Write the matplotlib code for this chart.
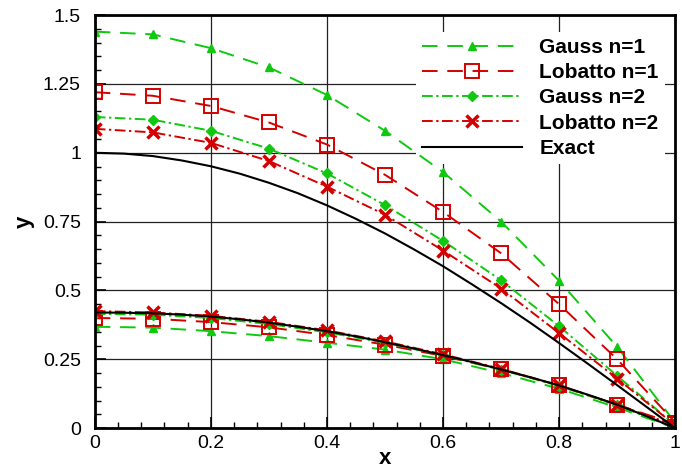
import numpy as np
import matplotlib
matplotlib.use('Agg')
from matplotlib import pyplot as plt
from matplotlib.ticker import MultipleLocator, FormatStrFormatter

plt.rcParams['font.family'] = ['Liberation Sans', 'DejaVu Sans']

x = [0, 0.1, 0.2, 0.3, 0.4, 0.5, 0.6, 0.7, 0.8, 0.9, 1.0]

# upper branch
gauss1_hi = [1.44, 1.43, 1.38, 1.31, 1.21, 1.08, 0.93, 0.75, 0.535, 0.295, 0.02]
lobatto1_hi = [1.22, 1.207, 1.17, 1.11, 1.03, 0.92, 0.785, 0.635, 0.45, 0.25, 0.02]
gauss2_hi = [1.13, 1.12, 1.08, 1.015, 0.925, 0.81, 0.68, 0.537, 0.37, 0.19, 0.01]
lobatto2_hi = [1.087, 1.074, 1.036, 0.97, 0.877, 0.775, 0.645, 0.507, 0.345, 0.18, 0.01]

# lower branch
gauss1_lo = [0.368, 0.365, 0.352, 0.334, 0.31, 0.285, 0.25, 0.2, 0.143, 0.075, 0.0]
lobatto1_lo = [0.40, 0.397, 0.385, 0.366, 0.338, 0.303, 0.262, 0.213, 0.155, 0.085, 0.015]
gauss2_lo = [0.415, 0.412, 0.40, 0.378, 0.348, 0.31, 0.264, 0.212, 0.153, 0.083, 0.0]
lobatto2_lo = [0.425, 0.42, 0.408, 0.386, 0.355, 0.315, 0.268, 0.215, 0.155, 0.085, 0.01]

# exact solutions
x_exact = [0, 0.05, 0.1, 0.15, 0.2, 0.25, 0.3, 0.35, 0.4, 0.45, 0.5,
           0.55, 0.6, 0.65, 0.7, 0.75, 0.8, 0.85, 0.9, 0.95, 1.0]
exact_hi = [1.0, 0.997, 0.988, 0.972, 0.951, 0.924, 0.891, 0.853, 0.809, 0.76, 0.707,
            0.649, 0.588, 0.522, 0.454, 0.383, 0.309, 0.233, 0.156, 0.078, 0.0]
exact_lo = [0.42, 0.419, 0.417, 0.412, 0.405, 0.395, 0.383, 0.368, 0.352, 0.333, 0.312,
            0.289, 0.265, 0.24, 0.213, 0.185, 0.155, 0.121, 0.085, 0.044, 0.0]

green = '#10c810'
red = '#d40000'

fig = plt.figure(figsize=(6.82, 4.72), dpi=100)
ax = fig.add_axes([0.139, 0.093, 0.851, 0.875])

styles = [
    ('Gauss n=1', gauss1_hi, gauss1_lo, dict(color=green, ls=(0, (8, 5)), marker='^', ms=5.5, mfc=green, mec=green)),
    ('Lobatto n=1', lobatto1_hi, lobatto1_lo, dict(color=red, ls=(0, (8, 5)), marker='s', ms=9.5, mfc='none', mec=red, mew=1.4)),
    ('Gauss n=2', gauss2_hi, gauss2_lo, dict(color=green, ls=(0, (5.5, 1.8, 1.2, 1.8)), marker='D', ms=5, mfc=green, mec=green)),
    ('Lobatto n=2', lobatto2_hi, lobatto2_lo, dict(color=red, ls=(0, (5.5, 1.8, 1.2, 1.8)), marker='x', ms=9, mec=red, mew=2.5)),
]
for name, hi, lo, st in styles:
    ax.plot(x, hi, lw=1.4, label=name, zorder=3, **st)
    ax.plot(x, lo, lw=1.4, zorder=3, **st)

ax.plot(x_exact, exact_hi, color='k', lw=1.5, label='Exact', zorder=3)
ax.plot(x_exact, exact_lo, color='k', lw=1.5, zorder=3)

ax.set_xlim(0, 1)
ax.set_ylim(0, 1.5)
ax.xaxis.set_major_locator(MultipleLocator(0.2))
ax.xaxis.set_minor_locator(MultipleLocator(0.04))
ax.yaxis.set_major_locator(MultipleLocator(0.25))
ax.yaxis.set_minor_locator(MultipleLocator(0.05))
ax.xaxis.set_major_formatter(FormatStrFormatter('%g'))
ax.yaxis.set_major_formatter(FormatStrFormatter('%g'))
ax.tick_params(which='major', direction='in', length=8, width=1.2, labelsize=14)
ax.tick_params(axis='x', which='major', pad=5)
ax.tick_params(axis='y', which='major', pad=10)
ax.tick_params(which='minor', direction='in', length=4, width=1)
ax.set_axisbelow(True)
ax.grid(True, which='major', color='#222222', lw=0.9)
for s in ax.spines.values():
    s.set_linewidth(2)
    s.set_zorder(4)

ax.set_xlabel('x', fontsize=16, fontweight='bold', labelpad=-3)
ax.set_ylabel('y', fontsize=16, fontweight='bold', labelpad=6)

leg = ax.legend(loc='upper right', bbox_to_anchor=(1.0, 0.985), numpoints=1,
                fontsize=15, handlelength=4.8, handletextpad=0.8, labelspacing=0.3,
                frameon=True, framealpha=1, facecolor='white', edgecolor='none',
                borderpad=0.3, fancybox=False)
leg.set_zorder(2)
for t in leg.get_texts():
    t.set_fontweight('bold')

fig.savefig('out.png', dpi=100)
